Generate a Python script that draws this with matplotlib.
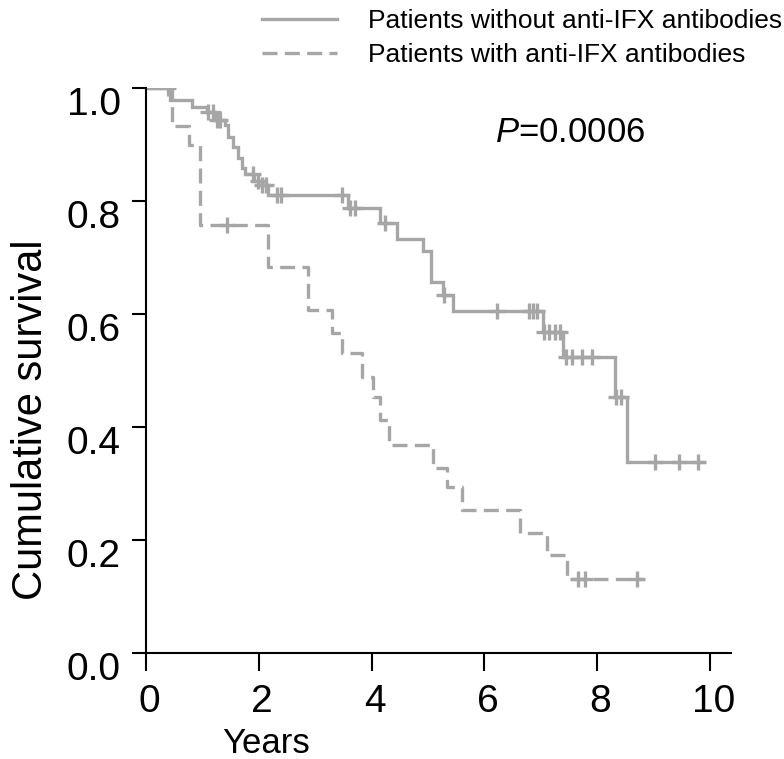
import numpy as np
import matplotlib
matplotlib.use("Agg")
import matplotlib.pyplot as plt
from matplotlib.transforms import ScaledTranslation

plt.rcParams['font.family'] = ['Liberation Sans', 'DejaVu Sans']
plt.rcParams['mathtext.fontset'] = 'custom'
plt.rcParams['mathtext.it'] = 'Liberation Sans:italic'
plt.rcParams['mathtext.rm'] = 'Liberation Sans'

# ---- data ----
no_ab_times = [0, 0.43, 0.82, 1.08, 1.22, 1.40, 1.45, 1.54, 1.63, 1.70, 1.76, 1.92, 2.05, 2.16,
               3.58, 4.15, 4.45, 4.91, 5.05, 5.27, 5.44, 7.04, 7.39, 8.32, 8.53]
no_ab_surv = [1.0, 0.979, 0.966, 0.957, 0.943, 0.935, 0.913, 0.896, 0.876, 0.858, 0.848, 0.836, 0.828, 0.810,
              0.788, 0.761, 0.733, 0.711, 0.656, 0.634, 0.605, 0.568, 0.524, 0.453, 0.338]
no_ab_end = 9.88
no_ab_censor = [0.39, 1.10, 1.18, 1.25, 1.32, 1.90, 1.98, 2.06, 2.12, 2.32, 2.40, 3.48, 3.62, 3.70,
                4.24, 5.28, 6.22, 6.79, 6.86, 6.93, 7.06, 7.15, 7.25, 7.33, 7.45, 7.55, 7.72, 7.90,
                8.33, 8.42, 9.03, 9.44, 9.79]

ab_times = [0, 0.46, 0.76, 0.96, 2.16, 2.87, 3.30, 3.48, 3.83, 4.02, 4.15, 4.31, 5.09, 5.34, 5.60,
            6.63, 7.11, 7.46]
ab_surv = [1.0, 0.933, 0.900, 0.758, 0.683, 0.607, 0.566, 0.531, 0.489, 0.453, 0.412, 0.368, 0.327,
           0.294, 0.253, 0.212, 0.173, 0.131]
ab_end = 8.81
ab_censor = [1.44, 7.66, 7.78, 8.71]

labels = ['Patients without anti-IFX antibodies', 'Patients with anti-IFX antibodies']
p_text = r'$P$=0.0006'
x_ticks = [0, 2, 4, 6, 8, 10]
y_ticks = [0.0, 0.2, 0.4, 0.6, 0.8, 1.0]

GRAY = '#a6a6a6'

fig = plt.figure(figsize=(7.84, 7.59), dpi=100)
ax = fig.add_axes([146/784, 1 - 653/759, (731 - 146)/784, (653 - 88)/759])


def surv_at(times, surv, t):
    idx = np.searchsorted(np.asarray(times), np.asarray(t), side='right') - 1
    return np.asarray(surv)[idx]


def draw(times, surv, end, censor, ls, label):
    tx = list(times) + [end]
    sy = list(surv) + [surv[-1]]
    line, = ax.step(tx, sy, where='post', color=GRAY, lw=2.4, linestyle=ls, label=label,
                    solid_joinstyle='miter')
    ax.plot(censor, surv_at(times, surv, censor), linestyle='none', marker='+',
            markersize=11, markeredgewidth=2.4, color=GRAY)
    return line


h1 = draw(no_ab_times, no_ab_surv, no_ab_end, no_ab_censor, '-', labels[0])
h2 = draw(ab_times, ab_surv, ab_end, ab_censor, (0, (4.5, 2.2)), labels[1])

ax.set_xlim(0, 10.37)
ax.set_ylim(0, 1.0)
ax.set_xticks(x_ticks)
ax.set_yticks(y_ticks)
ax.set_xticklabels([str(v) for v in x_ticks])
ax.set_yticklabels([f'{v:.1f}' for v in y_ticks])

for s in ['top', 'right']:
    ax.spines[s].set_visible(False)
for s in ['left', 'bottom']:
    ax.spines[s].set_linewidth(1.5)
ax.tick_params(axis='x', direction='out', length=13, width=1.5, labelsize=28, pad=9)
ax.tick_params(axis='y', direction='out', length=10, width=1.5, labelsize=28, pad=8)

off = ScaledTranslation(0, -0.13, fig.dpi_scale_trans)
for lab in ax.get_yticklabels():
    lab.set_transform(lab.get_transform() + off)
offx = ScaledTranslation(0.03, 0, fig.dpi_scale_trans)
for lab in ax.get_xticklabels():
    lab.set_transform(lab.get_transform() + offx)

ax.patch.set_visible(False)

leg = fig.legend(handles=[h1, h2], labels=labels, loc='upper left',
                 bbox_to_anchor=(262/784, 1 - 9/759), bbox_transform=fig.transFigure,
                 frameon=False, fontsize=19, handlelength=2.85, handletextpad=1.15,
                 labelspacing=0.38, borderpad=0, borderaxespad=0)

fig.text(495/784, 1 - 142/759, p_text, fontsize=25, ha='left', va='baseline')
fig.text(31/784, 1 - 420/759, 'Cumulative survival', fontsize=30, rotation=90,
         ha='center', va='center')
fig.text(222/784, 1 - 753/759, 'Years', fontsize=25, ha='left', va='baseline')

fig.savefig('out.png', dpi=100)
